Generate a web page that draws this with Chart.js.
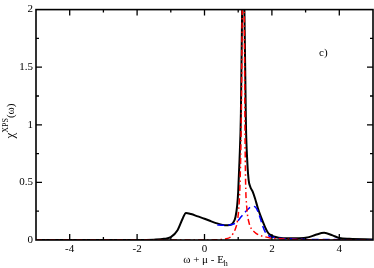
<!DOCTYPE html>
<html>
<head>
<meta charset="utf-8">
<script src="https://cdn.jsdelivr.net/npm/chart.js@4/dist/chart.umd.min.js"></script>
<style>
html,body{margin:0;padding:0;background:#fff;}
#wrap{width:374px;height:268px;position:relative;}
</style>
</head>
<body>
<div id="wrap"><canvas id="c" width="374" height="268"></canvas></div>
<script>
// ---- data ----
const xTicks = [-4, -2, 0, 2, 4];
const yTicks = [0, 0.5, 1, 1.5, 2];
const xMinor = [-3, -1, 1, 3];
const yMinor = [0.25, 0.75, 1.25, 1.75];

const blackX = [-5, -2, -1.5, -1.2, -1.0, -0.8, -0.65, -0.55, -0.4, -0.2, 0, 0.2, 0.4, 0.6, 0.75, 0.85, 0.92, 0.97, 1.0, 1.04, 1.08, 1.12, 1.15, 1.18, 1.23, 1.27, 1.31, 1.36, 1.43, 1.5, 1.58, 1.65, 1.73, 1.8, 1.87, 1.95, 2.05, 2.2, 2.5, 2.8, 3.1, 3.3, 3.55, 3.8, 4.0, 4.3, 5];
const blackY = [0, 0, 0.003, 0.01, 0.025, 0.085, 0.185, 0.235, 0.225, 0.205, 0.185, 0.162, 0.142, 0.128, 0.13, 0.15, 0.2, 0.3, 0.42, 0.7, 1.1, 2.1, 3.0, 2.1, 1.0, 0.68, 0.52, 0.46, 0.42, 0.36, 0.28, 0.22, 0.16, 0.11, 0.07, 0.045, 0.03, 0.02, 0.015, 0.015, 0.025, 0.045, 0.062, 0.04, 0.018, 0.01, 0.005];

const redX = [-5, 0, 0.3, 0.5, 0.68, 0.78, 0.85, 0.92, 0.98, 1.03, 1.06, 1.09, 1.12, 1.15, 1.18, 1.2, 1.22, 1.25, 1.33, 1.4, 1.48, 1.6, 1.77, 2.0, 2.5, 3.0, 5];
const redY = [0, 0, 0.002, 0.005, 0.013, 0.028, 0.057, 0.1, 0.17, 0.33, 0.55, 1.0, 2.0, 3.0, 2.0, 1.0, 0.5, 0.3, 0.14, 0.095, 0.07, 0.045, 0.03, 0.015, 0.007, 0.003, 0];

const blueX = [0.38, 0.5, 0.7, 0.88, 1.0, 1.08, 1.2, 1.3, 1.4, 1.48, 1.55, 1.63, 1.73, 1.8, 1.87, 1.95, 2.1, 2.3, 2.6, 3.0, 3.5, 4.0, 5];
const blueY = [0.13, 0.128, 0.13, 0.14, 0.17, 0.2, 0.24, 0.27, 0.29, 0.29, 0.27, 0.21, 0.12, 0.07, 0.045, 0.03, 0.02, 0.012, 0.008, 0.005, 0.004, 0.003, 0.002];

const pts = (xs, ys) => xs.map((x, i) => ({x: x, y: ys[i]}));
const SERIF = '"Liberation Serif", "DejaVu Serif", serif';

const framePlugin = {
  id: 'frame',
  afterDatasetsDraw(chart) {
    const ctx = chart.ctx;
    const a = chart.chartArea;
    const xs = chart.scales.x, ys = chart.scales.y;
    ctx.save();
    ctx.strokeStyle = '#000';
    ctx.lineWidth = 1.6;
    ctx.strokeRect(a.left, a.top, a.right - a.left, a.bottom - a.top);
    ctx.lineWidth = 1.3;
    const tick = (vals, len) => {
      vals.forEach(v => {
        const px = xs.getPixelForValue(v);
        ctx.beginPath();
        ctx.moveTo(px, a.bottom); ctx.lineTo(px, a.bottom - len);
        ctx.moveTo(px, a.top); ctx.lineTo(px, a.top + len);
        ctx.stroke();
      });
    };
    const tickY = (vals, len) => {
      vals.forEach(v => {
        const py = ys.getPixelForValue(v);
        ctx.beginPath();
        ctx.moveTo(a.left, py); ctx.lineTo(a.left + len, py);
        ctx.moveTo(a.right, py); ctx.lineTo(a.right - len, py);
        ctx.stroke();
      });
    };
    tick(xTicks, 6); tick(xMinor, 3);
    tickY(yTicks.slice(1, -1), 6); tickY(yMinor, 3);

    ctx.fillStyle = '#000';
    // panel label
    ctx.font = '11px ' + SERIF;
    ctx.textAlign = 'left'; ctx.textBaseline = 'alphabetic';
    ctx.fillText('c)', 319, 56);

    // x title
    ctx.font = '11px ' + SERIF;
    const main = 'ω + μ - E';
    const w1 = ctx.measureText(main).width;
    ctx.font = '8px ' + SERIF;
    const w2 = ctx.measureText('h').width;
    const cx = (a.left + a.right) / 2 + 1;
    let sx = cx - (w1 + w2) / 2;
    ctx.font = '11px ' + SERIF;
    ctx.fillText(main, sx, 263);
    ctx.font = '8px ' + SERIF;
    ctx.fillText('h', sx + w1, 266);

    // y title (rotated)
    ctx.translate(14, 121);
    ctx.rotate(-Math.PI / 2);
    ctx.font = '13px ' + SERIF;
    const c1 = 'χ';
    const wc = ctx.measureText(c1).width;
    ctx.font = '8px ' + SERIF;
    const ws = ctx.measureText('XPS').width;
    ctx.font = '11px ' + SERIF;
    const wp = ctx.measureText('(ω)').width;
    let tx = -(wc + ws + wp) / 2;
    ctx.font = '13px ' + SERIF;
    ctx.fillText(c1, tx, 0);
    ctx.font = '8px ' + SERIF;
    ctx.fillText('XPS', tx + wc, -6);
    ctx.font = '11px ' + SERIF;
    ctx.fillText('(ω)', tx + wc + ws, 0);
    ctx.restore();
  }
};

new Chart(document.getElementById('c'), {
  type: 'line',
  data: {
    datasets: [
      {data: pts(redX, redY), borderColor: '#ff0000', borderWidth: 1.5, borderDash: [6, 3, 1.5, 3], pointRadius: 0, cubicInterpolationMode: 'monotone', fill: false, order: 0},
      {data: pts(blueX, blueY), borderColor: '#0000ff', borderWidth: 1.5, borderDash: [7, 4], pointRadius: 0, cubicInterpolationMode: 'monotone', fill: false, order: 1},
      {data: pts(blackX, blackY), borderColor: '#000000', borderWidth: 2, pointRadius: 0, cubicInterpolationMode: 'monotone', fill: false, order: 2}
    ]
  },
  options: {
    responsive: false,
    animation: false,
    events: [],
    layout: {padding: {top: 5, right: 1, left: 0, bottom: 0}},
    plugins: {legend: {display: false}, tooltip: {enabled: false}},
    scales: {
      x: {
        type: 'linear', min: -5, max: 5,
        grid: {display: false, drawTicks: false},
        border: {display: false},
        ticks: {color: '#000', padding: 3, font: {family: SERIF, size: 11}, maxRotation: 0, callback: v => String(v)},
        afterBuildTicks: s => { s.ticks = xTicks.map(v => ({value: v})); },
        afterFit: s => { s.height = 28; }
      },
      y: {
        type: 'linear', min: 0, max: 2,
        grid: {display: false, drawTicks: false},
        border: {display: false},
        ticks: {color: '#000', padding: 3, font: {family: SERIF, size: 11}, callback: v => String(v)},
        afterBuildTicks: s => { s.ticks = yTicks.map(v => ({value: v})); },
        afterFit: s => { s.width = 36; }
      }
    }
  },
  plugins: [framePlugin]
});
</script>
</body>
</html>
